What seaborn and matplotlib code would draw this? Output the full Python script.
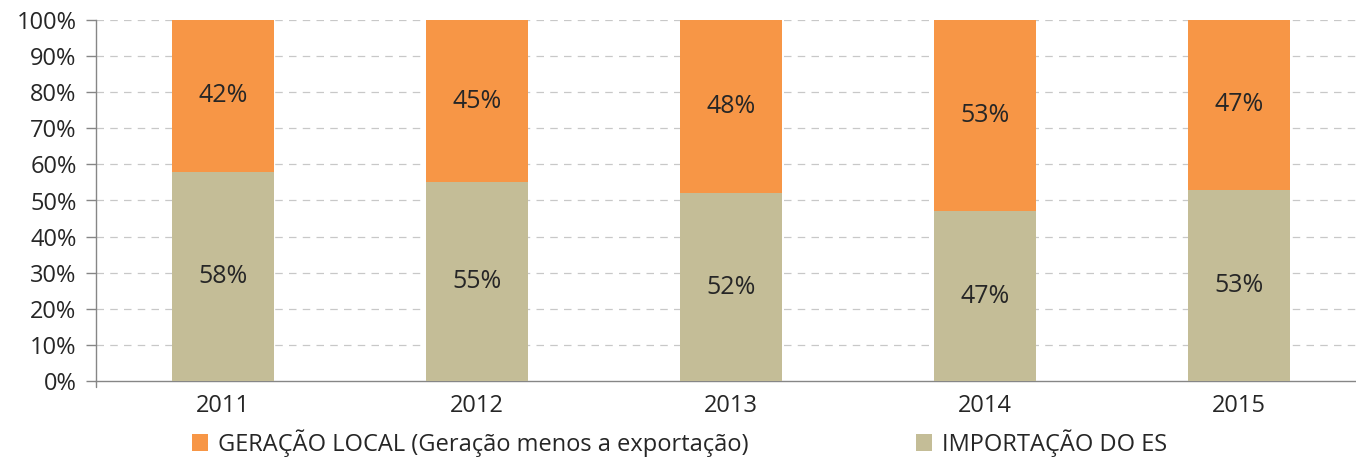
import matplotlib
matplotlib.use("Agg")
import matplotlib.pyplot as plt
import seaborn as sns
import pandas as pd
from matplotlib.patches import Patch

years = ["2011", "2012", "2013", "2014", "2015"]
geracao_local = [42, 45, 48, 53, 47]
importacao = [58, 55, 52, 47, 53]
yticks = [0, 10, 20, 30, 40, 50, 60, 70, 80, 90, 100]
series_names = ["GERAÇÃO LOCAL (Geração menos a exportação)", "IMPORTAÇÃO DO ES"]

orange = "#F79646"
tan = "#C4BD97"
text_c = "#262626"

sns.set_style("white")
plt.rcParams['font.family'] = ['Open Sans', 'DejaVu Sans']

df = pd.DataFrame({"year": years, "local": geracao_local, "imp": importacao})
df["total"] = df["local"] + df["imp"]

fig = plt.figure(figsize=(13.56, 4.65), dpi=100)
ax = fig.add_axes([96/1356, 1-381/465, 1-96/1356, 361/465])

sns.barplot(data=df, x="year", y="total", color=orange, width=0.4, ax=ax,
            saturation=1, edgecolor="none", zorder=3)
sns.barplot(data=df, x="year", y="imp", color=tan, width=0.4, ax=ax,
            saturation=1, edgecolor="none", zorder=3)

fs = 17
for i, (l, m) in enumerate(zip(geracao_local, importacao)):
    ax.text(i, m / 2, f"{m}%", ha="center", va="center", fontsize=18, color=text_c, zorder=4)
    ax.text(i, m + l / 2, f"{l}%", ha="center", va="center", fontsize=18, color=text_c, zorder=4)

ax.set_ylim(0, 100)
ax.set_xlim(-0.5, -0.5 + 1260/254)
ax.set_yticks(yticks)
ax.set_yticklabels([f"{v}%" for v in yticks], fontsize=fs, color=text_c)
ax.tick_params(axis="x", labelsize=fs, colors=text_c, length=0, pad=9)
ax.tick_params(axis="y", left=True, length=7, width=1, color="#868686", pad=7)
ax.set_xlabel("")
ax.set_ylabel("")
for v in yticks[1:]:
    ax.axhline(v, color="#C8C8C8", lw=0.9, ls=(0, (6, 5)), zorder=1)
for s in ["top", "right"]:
    ax.spines[s].set_visible(False)
for s in ["left", "bottom"]:
    ax.spines[s].set_color("#868686")
    ax.spines[s].set_linewidth(1)
ax.plot([-0.5, -0.5], [0, -1.6], color="#868686", lw=1, clip_on=False)

handles = [Patch(facecolor=orange, edgecolor="none"), Patch(facecolor=tan, edgecolor="none")]
fig.legend(handles, series_names, loc="center", bbox_to_anchor=(0.501, 1-443/465), ncol=2,
           frameon=False, fontsize=fs, handlelength=0.7, handleheight=0.7, handletextpad=0.4,
           columnspacing=7.1, labelcolor=text_c)

fig.savefig("out.png", dpi=100)
